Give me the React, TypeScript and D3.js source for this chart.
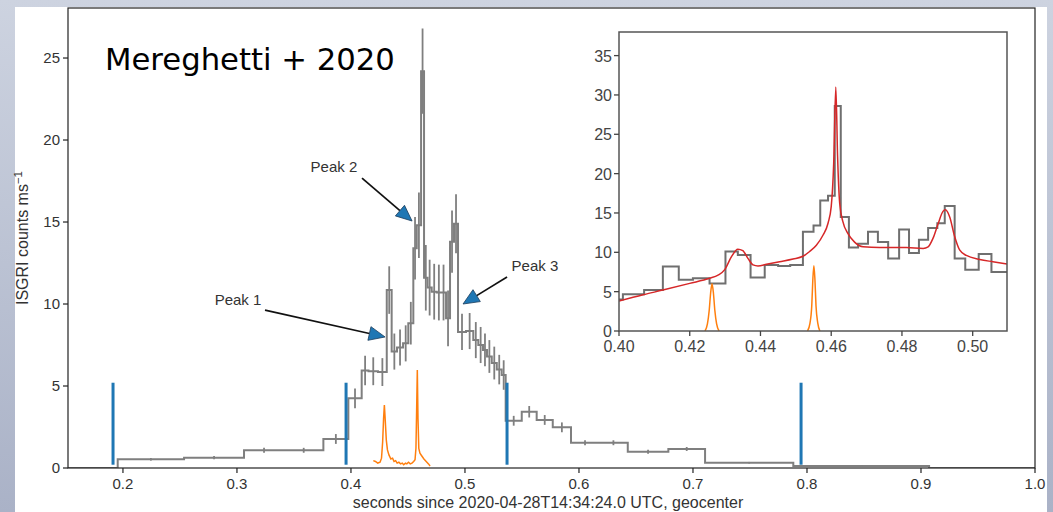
import React from "react";
import * as d3 from "d3";

const W = 1053;
const H = 512;

// ISGRI light curve, variable-width bins (s since T0), rates (counts/ms) and 1-sigma errors
const mainEdges = [
  0.15, 0.1954, 0.2536, 0.3062, 0.3413, 0.3758, 0.3977, 0.4094, 0.4154, 0.4237,
  0.4314, 0.4357, 0.4404, 0.4457, 0.4503, 0.4547, 0.4577, 0.4615, 0.4641, 0.4672,
  0.4708, 0.4752, 0.479, 0.4834, 0.4869, 0.4904, 0.4939, 0.5009, 0.5073, 0.5117,
  0.5158, 0.5193, 0.5235, 0.5279, 0.5322, 0.5357, 0.5498, 0.5629, 0.577, 0.593,
  0.6176, 0.6428, 0.6784, 0.7106, 0.788, 0.9071, 1.02,
];
const mainRates = [
  0, 0.53, 0.63, 1.08, 1.08, 1.77, 4.25, 5.95, 5.9, 5.85,
  10.85, 7.1, 7.35, 7.6, 8.83, 13.4, 14.8, 24.2, 11.6, 11.0,
  10.75, 10.7, 10.7, 9.13, 13.8, 14.9, 8.3, 8.35, 7.8, 7.5,
  7.2, 6.8, 6.4, 6.0, 5.67, 2.88, 3.43, 2.93, 2.48, 1.54,
  1.54, 0.99, 1.16, 0.32, 0.12, 0,
];
const mainErrors = [
  0, 0.08, 0.1, 0.15, 0.15, 0.3, 0.6, 0.9, 0.85, 0.85,
  1.45, 1.1, 1.1, 1.1, 1.3, 1.9, 2.0, 2.6, 2.0, 1.7,
  1.7, 1.7, 1.7, 1.7, 1.9, 1.8, 1.1, 1.1, 1.1, 1.1,
  1.0, 1.0, 1.0, 0.9, 0.9, 0.3, 0.35, 0.3, 0.3, 0.15,
  0.15, 0.12, 0.12, 0.05, 0.03, 0,
];

// Interval boundaries (blue markers)
const markerTimes = [0.1913, 0.3957, 0.5369, 0.7948];
const markerLow = 0.2;
const markerHigh = 5.2;

// Second light curve overlaid in the main panel
const pulseMainT = [
  0.4196, 0.4215, 0.4235, 0.4255, 0.4268, 0.4278, 0.4286, 0.4293, 0.43, 0.431,
  0.432, 0.4333, 0.435, 0.4365, 0.4378, 0.4392, 0.4405, 0.442, 0.4435, 0.445,
  0.4462, 0.4478, 0.449, 0.4505, 0.452, 0.4535, 0.455, 0.4562, 0.457, 0.4576,
  0.4582, 0.4588, 0.4595, 0.4605, 0.462, 0.464, 0.466, 0.468, 0.4694,
];
const pulseMainY = [
  0.45, 0.4, 0.3, 0.35, 0.6, 1.6, 3.0, 3.84, 3.0, 1.7,
  1.1, 0.8, 0.55, 0.6, 0.4, 0.45, 0.3, 0.35, 0.25, 0.3,
  0.2, 0.3, 0.25, 0.35, 0.25, 0.3, 0.4, 0.5, 1.2, 3.5,
  5.98, 3.0, 1.2, 0.9, 0.75, 0.55, 0.4, 0.25, 0.12,
];

// Zoomed light curve (inset)
const insetEdges = [
  0.398, 0.4011, 0.4071, 0.4124, 0.4169, 0.4209, 0.4256, 0.4301, 0.4336, 0.4372,
  0.4412, 0.445, 0.4484, 0.452, 0.455, 0.4569, 0.4591, 0.461, 0.4627, 0.465,
  0.4676, 0.4704, 0.4732, 0.4761, 0.4792, 0.482, 0.4848, 0.4874, 0.49, 0.4921,
  0.4949, 0.4979, 0.5017, 0.5053, 0.511,
];
const insetRates = [
  4.0, 4.66, 5.2, 8.2, 6.5, 6.7, 6.05, 10.1, 9.66, 6.8,
  8.4, 8.26, 8.4, 12.6, 13.4, 16.6, 17.2, 28.6, 14.5, 10.6,
  11.1, 12.6, 11.3, 9.2, 12.9, 9.9, 11.6, 13.1, 13.7, 15.9,
  9.2, 7.8, 9.8, 7.5,
];

// Fitted model (red)
const modelT = [
  0.4, 0.4068, 0.4124, 0.42, 0.4256, 0.428, 0.4299, 0.4318, 0.4336, 0.435,
  0.4365, 0.4379, 0.4393, 0.4417, 0.4454, 0.4492, 0.452, 0.4539, 0.4558, 0.4577,
  0.4591, 0.46, 0.4607, 0.4613, 0.4618, 0.4624, 0.4633, 0.4647, 0.4666, 0.469,
  0.4737, 0.4812, 0.486, 0.4874, 0.4888, 0.4902, 0.4916, 0.4923, 0.4935, 0.4949,
  0.4963, 0.4982, 0.502, 0.5057, 0.5097,
];
const modelY = [
  3.8, 4.6, 5.2, 6.05, 6.7, 7.1, 7.8, 9.45, 10.4, 10.2,
  9.2, 8.4, 8.26, 8.47, 8.8, 9.15, 9.5, 10.1, 10.9, 12.2,
  13.7, 15.8, 21.3, 31.0, 22.2, 16.2, 13.9, 12.4, 11.3, 10.7,
  10.6, 10.6, 10.5, 10.7, 11.8, 13.6, 15.2, 15.4, 14.5, 12.0,
  10.3, 9.6, 9.1, 8.8, 8.5,
];

// Narrow pulses (orange) in the inset
const pulseAT = [0.4243, 0.425, 0.4255, 0.4259, 0.4263, 0.4267, 0.4271, 0.4276, 0.4283];
const pulseAY = [0, 0.9, 2.6, 4.8, 6.0, 4.8, 2.6, 0.9, 0];
const pulseBT = [0.4533, 0.454, 0.4545, 0.4548, 0.4551, 0.4554, 0.4557, 0.4562, 0.4568];
const pulseBY = [0, 1.0, 3.2, 6.5, 8.3, 6.5, 3.2, 1.0, 0];

// Ticks
const mainXTicks = [0.2, 0.3, 0.4, 0.5, 0.6, 0.7, 0.8, 0.9, 1.0];
const mainXLabels = ["0.2", "0.3", "0.4", "0.5", "0.6", "0.7", "0.8", "0.9", "1.0"];
const mainYTicks = [0, 5, 10, 15, 20, 25];
const insetXTicks = [0.4, 0.42, 0.44, 0.46, 0.48, 0.5];
const insetXLabels = ["0.40", "0.42", "0.44", "0.46", "0.48", "0.50"];
const insetYTicks = [0, 5, 10, 15, 20, 25, 30, 35];

// Peak annotations in data coordinates: label position, arrow tail, arrow tip
const peakNames = ["Peak 1", "Peak 2", "Peak 3"];
const peakLabelAt = [[0.3009, 9.94], [0.3851, 18.05], [0.5614, 12.01]];
const peakTail = [[0.3246, 9.63], [0.4097, 17.68], [0.5369, 11.65]];
const peakTip = [[0.4299, 7.99], [0.4536, 15.06], [0.4983, 10.0]];

const FONT = "'Liberation Sans', Arial, sans-serif";

function stepPath(edges: number[], vals: number[], x: d3.ScaleLinear<number, number>, y: d3.ScaleLinear<number, number>) {
  const pts: [number, number][] = vals.map((v, i) => [edges[i], v]);
  pts.push([edges[edges.length - 1], vals[vals.length - 1]]);
  return d3
    .line<[number, number]>()
    .x((d) => x(d[0]))
    .y((d) => y(d[1]))
    .curve(d3.curveStepAfter)(pts) as string;
}

function smoothPath(ts: number[], ys: number[], x: d3.ScaleLinear<number, number>, y: d3.ScaleLinear<number, number>, curve: d3.CurveFactory = d3.curveMonotoneX) {
  return d3
    .line<number>()
    .x((_, i) => x(ts[i]))
    .y((d) => y(d))
    .curve(curve)(ys) as string;
}

function Arrow({ x1, y1, x2, y2 }: { x1: number; y1: number; x2: number; y2: number }) {
  const dx = x2 - x1;
  const dy = y2 - y1;
  const len = Math.hypot(dx, dy);
  const ux = dx / len;
  const uy = dy / len;
  const headLen = 16;
  const headHalf = 7;
  const bx = x2 - ux * headLen;
  const by = y2 - uy * headLen;
  const px = -uy;
  const py = ux;
  const head = `M${x2},${y2} L${bx + px * headHalf},${by + py * headHalf} L${bx - px * headHalf},${by - py * headHalf} Z`;
  return (
    <g>
      <line x1={x1} y1={y1} x2={bx} y2={by} stroke="#111" strokeWidth={1.7} />
      <path d={head} fill="#1f77b4" stroke="#1b3b5a" strokeWidth={0.8} strokeLinejoin="miter" />
    </g>
  );
}

export default function App() {
  // main axes
  const mL = 68, mR = 1035, mT = 8, mB = 468;
  const x = d3.scaleLinear().domain([0.1518, 1.0]).range([mL, mR]);
  const y = d3.scaleLinear().domain([0, 28.05]).range([mB, mT]);

  // inset axes
  const iL = 619, iR = 1007, iT = 32, iB = 331;
  const xi = d3.scaleLinear().domain([0.4, 0.5097]).range([iL, iR]);
  const yi = d3.scaleLinear().domain([0, 38]).range([iB, iT]);

  const histColor = "#7f7f7f";

  return (
    <svg width={W} height={H} viewBox={`0 0 ${W} ${H}`} style={{ display: "block", position: "absolute", left: 0, top: 0 }}>
      <defs>
        <linearGradient id="bg" x1="0" y1="0" x2="0" y2="1">
          <stop offset="0" stopColor="#cdd3e0" />
          <stop offset="1" stopColor="#aab2c7" />
        </linearGradient>
        <clipPath id="mainClip">
          <rect x={mL} y={mT} width={mR - mL} height={mB - mT} />
        </clipPath>
        <clipPath id="insetClip">
          <rect x={iL} y={iT} width={iR - iL} height={iB - iT} />
        </clipPath>
      </defs>

      <rect x={0} y={0} width={W} height={H} fill="url(#bg)" />
      <rect x={15} y={7} width={1032} height={H - 7} fill="#ffffff" />

      {/* main light curve */}
      <g clipPath="url(#mainClip)">
        <path d={stepPath(mainEdges, mainRates, x, y)} fill="none" stroke={histColor} strokeWidth={2} />
        {mainRates.map((r, i) =>
          mainErrors[i] > 0 ? (
            <line
              key={i}
              x1={x((mainEdges[i] + mainEdges[i + 1]) / 2)}
              x2={x((mainEdges[i] + mainEdges[i + 1]) / 2)}
              y1={y(r - mainErrors[i])}
              y2={y(r + mainErrors[i])}
              stroke={histColor}
              strokeWidth={1.8}
            />
          ) : null
        )}
        {markerTimes.map((t, i) => (
          <line key={i} x1={x(t)} x2={x(t)} y1={y(markerLow)} y2={y(markerHigh)} stroke="#1f77b4" strokeWidth={3} />
        ))}
        <path d={smoothPath(pulseMainT, pulseMainY, x, y, d3.curveLinear)} fill="none" stroke="#ff7f0e" strokeWidth={1.5} />
      </g>

      {/* main frame */}
      <rect x={mL} y={mT} width={mR - mL} height={mB - mT} fill="none" stroke="#222" strokeWidth={1.2} />
      {mainXTicks.map((t, i) => (
        <g key={i}>
          <line x1={x(t)} x2={x(t)} y1={mB} y2={mB + 5} stroke="#222" strokeWidth={1.2} />
          <text x={x(t)} y={mB + 21} textAnchor="middle" fontFamily={FONT} fontSize={15} fill="#333">
            {mainXLabels[i]}
          </text>
        </g>
      ))}
      {mainYTicks.map((t, i) => (
        <g key={i}>
          <line x1={mL - 5} x2={mL} y1={y(t)} y2={y(t)} stroke="#222" strokeWidth={1.2} />
          <text x={mL - 8} y={y(t) + 5} textAnchor="end" fontFamily={FONT} fontSize={15} fill="#333">
            {t}
          </text>
        </g>
      ))}
      <text x={548} y={508} textAnchor="middle" fontFamily={FONT} fontSize={16} fill="#333">
        seconds since 2020-04-28T14:34:24.0 UTC, geocenter
      </text>
      <text transform="translate(28, 238) rotate(-90)" textAnchor="middle" fontFamily={FONT} fontSize={16} fill="#333">
        ISGRI counts ms
        <tspan dy={-6} fontSize={11.5}>−1</tspan>
      </text>

      <text x={105} y={70} fontFamily="'DejaVu Sans', sans-serif" fontSize={30.7} fill="#000">
        Mereghetti + 2020
      </text>

      {/* peak annotations */}
      {peakNames.map((name, i) => (
        <g key={i}>
          <Arrow x1={x(peakTail[i][0])} y1={y(peakTail[i][1])} x2={x(peakTip[i][0])} y2={y(peakTip[i][1])} />
          <text x={x(peakLabelAt[i][0])} y={y(peakLabelAt[i][1])} textAnchor="middle" fontFamily={FONT} fontSize={15} fill="#333">
            {name}
          </text>
        </g>
      ))}

      {/* inset */}
      <rect x={iL} y={iT} width={iR - iL} height={iB - iT} fill="#ffffff" />
      <g clipPath="url(#insetClip)">
        <path d={stepPath(insetEdges, insetRates, xi, yi)} fill="none" stroke="#6f6f6f" strokeWidth={2} />
        <path d={smoothPath(modelT, modelY, xi, yi)} fill="none" stroke="#d62728" strokeWidth={1.5} />
        <path d={smoothPath(pulseAT, pulseAY, xi, yi)} fill="none" stroke="#ff7f0e" strokeWidth={1.5} />
        <path d={smoothPath(pulseBT, pulseBY, xi, yi)} fill="none" stroke="#ff7f0e" strokeWidth={1.5} />
      </g>
      <rect x={iL} y={iT} width={iR - iL} height={iB - iT} fill="none" stroke="#555" strokeWidth={1.5} />
      {insetXTicks.map((t, i) => (
        <g key={i}>
          <line x1={xi(t)} x2={xi(t)} y1={iB} y2={iB + 5} stroke="#444" strokeWidth={1.3} />
          <text x={xi(t)} y={iB + 21} textAnchor="middle" fontFamily={FONT} fontSize={16} fill="#444">
            {insetXLabels[i]}
          </text>
        </g>
      ))}
      {insetYTicks.map((t, i) => (
        <g key={i}>
          <line x1={iL - 5} x2={iL} y1={yi(t)} y2={yi(t)} stroke="#444" strokeWidth={1.3} />
          <text x={iL - 7} y={yi(t) + 6} textAnchor="end" fontFamily={FONT} fontSize={16} fill="#444">
            {t}
          </text>
        </g>
      ))}
    </svg>
  );
}
